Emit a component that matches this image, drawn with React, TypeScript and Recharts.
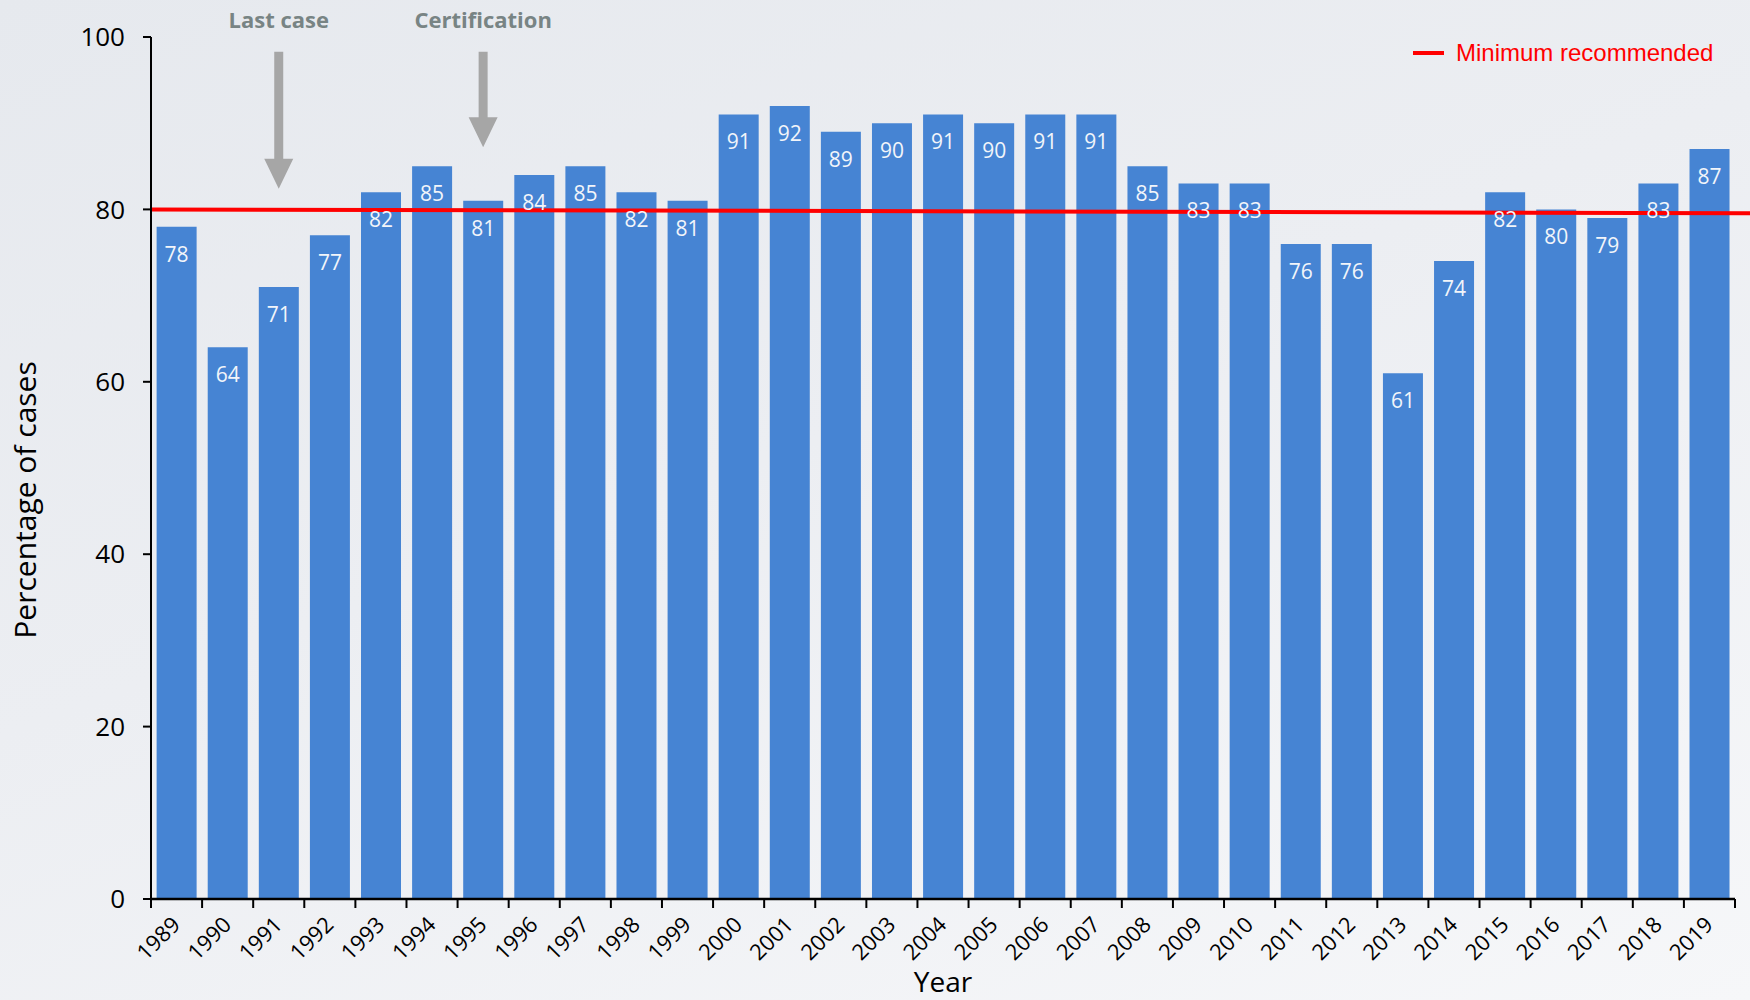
import React from "react";
import {
  Bar,
  BarChart,
  LabelList,
  Legend,
  ReferenceLine,
  XAxis,
  YAxis,
  Label,
} from "recharts";

const years = [
  "1989", "1990", "1991", "1992", "1993", "1994", "1995", "1996",
  "1997", "1998", "1999", "2000", "2001", "2002", "2003", "2004",
  "2005", "2006", "2007", "2008", "2009", "2010", "2011", "2012",
  "2013", "2014", "2015", "2016", "2017", "2018", "2019",
];

const percentages = [
  78, 64, 71, 77, 82, 85, 81, 84, 85, 82, 81, 91, 92, 89, 90, 91,
  90, 91, 91, 85, 83, 83, 76, 76, 61, 74, 82, 80, 79, 83, 87,
];

const yTicks = [0, 20, 40, 60, 80, 100];

// the red "minimum recommended" line drifts a little from left to right
const minimumStart = 80;
const minimumEnd = 79.55;

const annotations = [
  { year: "1991", label: "Last case", top: 98.3, tip: 82.4 },
  { year: "1995", label: "Certification", top: 98.3, tip: 87.2 },
];

const data = years.map((year, i) => ({ year, value: percentages[i] }));

const W = 1750;
const H = 1000;
const PLOT_LEFT = 151;
const PLOT_RIGHT = 1735;
const bandHalf = (PLOT_RIGHT - PLOT_LEFT) / years.length / 2;

const FONT = "'Open Sans', sans-serif";

function YearTick(props: any) {
  const { x, y, payload, index } = props;
  const tx = x + 5;
  const ty = y + 27;
  return (
    <g>
      <line x1={x - bandHalf} y1={y} x2={x - bandHalf} y2={y + 9} stroke="#000" strokeWidth={2} />
      {index === years.length - 1 && (
        <line x1={x + bandHalf} y1={y} x2={x + bandHalf} y2={y + 9} stroke="#000" strokeWidth={2} />
      )}
      <text
        x={tx}
        y={ty}
        transform={`rotate(-45 ${tx} ${ty})`}
        textAnchor="end"
        fontSize={22}
        fontFamily={FONT}
        fill="#000"
      >
        {payload.value}
      </text>
    </g>
  );
}

function Arrow(props: any) {
  const { x1, y1, y2, text } = props;
  const shaft = 4.5;
  const head = 14.5;
  const headLen = 30;
  const yh = y2 - headLen;
  return (
    <g>
      <text
        x={x1}
        y={y1 - 24}
        textAnchor="middle"
        fontSize={22}
        fontWeight={700}
        fontFamily={FONT}
        fill="#788484"
      >
        {text}
      </text>
      <path
        d={`M${x1 - shaft},${y1} L${x1 + shaft},${y1} L${x1 + shaft},${yh} L${x1 + head},${yh} L${x1},${y2} L${x1 - head},${yh} L${x1 - shaft},${yh} Z`}
        fill="#a6a6a6"
      />
    </g>
  );
}

function LegendBox() {
  return (
    <div style={{ display: "flex", alignItems: "center", fontFamily: "'Liberation Sans', Arial, sans-serif" }}>
      <span style={{ display: "inline-block", width: 31, height: 4, background: "#ff0000", marginRight: 12 }} />
      <span style={{ color: "#ff0000", fontSize: 24, lineHeight: "28px", whiteSpace: "nowrap" }}>
        Minimum recommended
      </span>
    </div>
  );
}

export default function App() {
  return (
    <div
      style={{
        position: "absolute",
        left: 0,
        top: 0,
        width: W,
        height: H,
        background: "linear-gradient(160deg, #e6e9ee 0%, #eceef2 45%, #f6f7f9 100%)",
      }}
    >
      <BarChart
        width={W}
        height={H}
        data={data}
        margin={{ top: 37, right: W - PLOT_RIGHT, bottom: 0, left: 0 }}
        barCategoryGap="11%"
      >
        <XAxis
          dataKey="year"
          height={101}
          interval={0}
          tickLine={false}
          tickSize={0}
          tickMargin={0}
          axisLine={{ stroke: "#000", strokeWidth: 2.5 }}
          tick={<YearTick />}
        >
          <Label
            content={(p: any) => {
              const vb = p.viewBox || {};
              const cx = (vb.x ?? PLOT_LEFT) + (vb.width ?? PLOT_RIGHT - PLOT_LEFT) / 2;
              return (
                <text x={cx} y={992} textAnchor="middle" fontSize={28} fontFamily={FONT} fill="#000">
                  Year
                </text>
              );
            }}
          />
        </XAxis>
        <XAxis xAxisId="pos" type="number" domain={[0, years.length]} allowDataOverflow hide />
        <YAxis
          width={PLOT_LEFT}
          domain={[0, 100]}
          ticks={yTicks}
          interval={0}
          tickSize={8}
          tickMargin={18}
          axisLine={{ stroke: "#000", strokeWidth: 2 }}
          tickLine={{ stroke: "#000", strokeWidth: 2 }}
          tick={{ fill: "#000", fontSize: 26, fontFamily: FONT }}
        >
          <Label
            content={(p: any) => {
              const vb = p.viewBox || {};
              const cy = (vb.y ?? 37) + (vb.height ?? 861) / 2 + 32;
              return (
                <text
                  x={24}
                  y={cy}
                  transform={`rotate(-90 24 ${cy})`}
                  textAnchor="middle"
                  dominantBaseline="central"
                  fontSize={30}
                  fontFamily={FONT}
                  fill="#000"
                >
                  Percentage of cases
                </text>
              );
            }}
          />
        </YAxis>
        <Legend
          layout="horizontal"
          verticalAlign="middle"
          align="center"
          wrapperStyle={{ top: 39, left: 1413, width: 320, height: 28 }}
          content={() => <LegendBox />}
        />
        <Bar dataKey="value" fill="#4684d3" isAnimationActive={false}>
          <LabelList
            dataKey="value"
            position="insideTop"
            offset={20}
            fill="#f2f5fa"
            fontSize={21}
            fontFamily={FONT}
          />
        </Bar>
        <ReferenceLine
          xAxisId="pos"
          segment={[
            { x: 0, y: minimumStart },
            { x: years.length, y: minimumEnd },
          ]}
          stroke="#ff0000"
          strokeWidth={4}
          ifOverflow="visible"
        />
        {annotations.map((a) => (
          <ReferenceLine
            key={a.year}
            segment={[
              { x: a.year, y: a.top },
              { x: a.year, y: a.tip },
            ]}
            ifOverflow="visible"
            shape={(p: any) => <Arrow {...p} text={a.label} />}
          />
        ))}
      </BarChart>
    </div>
  );
}
